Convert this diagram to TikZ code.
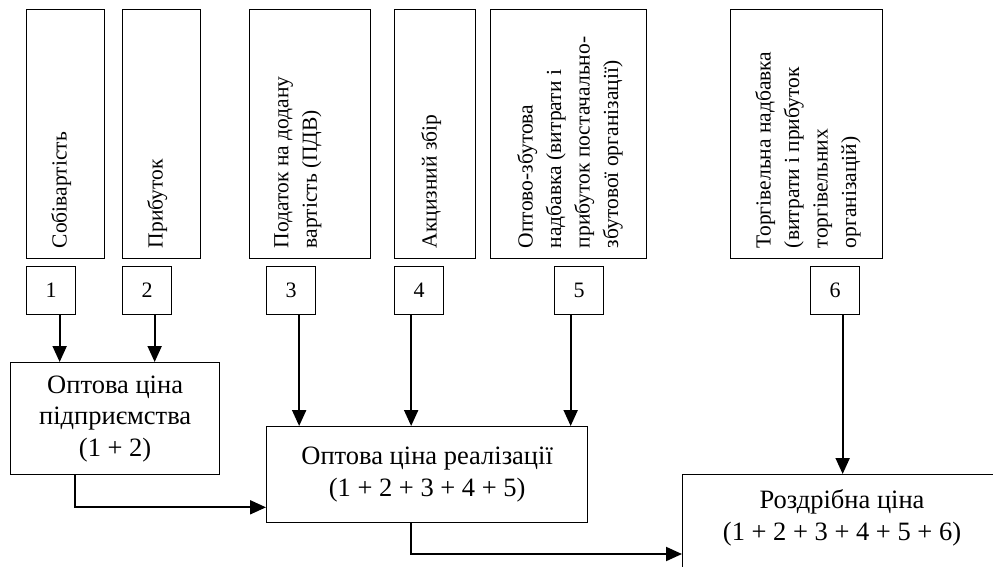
\documentclass[tikz,border=0pt]{standalone}
\usepackage{fontspec}
\setmainfont{Liberation Serif}
\usetikzlibrary{arrows.meta,calc}
\begin{document}
\begin{tikzpicture}[x=1pt,y=-1pt,
  box/.style={draw, line width=1.3pt, inner sep=0pt, anchor=north west},
  vtxt/.style={rotate=90, anchor=north west, inner sep=0pt, align=left, font=\fontsize{21.5}{28.5}\selectfont},
  num/.style={box, minimum width=49pt, minimum height=48pt, font=\fontsize{22}{25}\selectfont},
  arr/.style={line width=2pt, -{Triangle[length=16pt,width=14pt]}},
  htxt/.style={align=center, font=\fontsize{26.5}{31.5}\selectfont}]
\useasboundingbox (0,0) rectangle (993,566);
\clip (0,0) rectangle (993,566);
% top boxes
\node[box, minimum width=78pt, minimum height=249pt] (A) at (26,9) {};
\node[box, minimum width=78pt, minimum height=249pt] (B) at (122,9) {};
\node[box, minimum width=121pt, minimum height=249pt] (C) at (249,9) {};
\node[box, minimum width=81pt, minimum height=249pt] (D) at (394,9) {};
\node[box, minimum width=156pt, minimum height=249pt] (E) at (490,9) {};
\node[box, minimum width=152pt, minimum height=249pt] (F) at (730,9) {};
\node[vtxt] (At) at ($(A.south west)+(25,-11)$) {Собівартість};
\node[vtxt] (Bt) at ($(B.south west)+(25,-11)$) {Прибуток};
\node[vtxt] (Ct) at ($(C.south west)+(25,-11)$) {Податок на додану\\вартість (ПДВ)};
\node[vtxt] (Dt) at ($(D.south west)+(27,-11)$) {Акцизний збір};
\node[vtxt] (Et) at ($(E.south west)+(27,-11)$) {Оптово-збутова\\надбавка (витрати і\\прибуток постачально-\\збутової організації)};
\node[vtxt] (Ft) at ($(F.south west)+(25,-11)$) {Торгівельна надбавка\\(витрати і прибуток\\торгівельних\\організацій)};
% number boxes
\node[num] (n1) at (26,266) {1};
\node[num] (n2) at (122,266) {2};
\node[num] (n3) at (266,266) {3};
\node[num] (n4) at (394,266) {4};
\node[num] (n5) at (554,266) {5};
\node[num] (n6) at (810,266) {6};
% price boxes
\node[box, minimum width=209pt, minimum height=112pt, htxt, anchor=north west] (Ent) at (10,362) {Оптова ціна\\підприємства\\(1 + 2)};
\node[box, minimum width=321pt, minimum height=96pt, htxt, anchor=north west] (Real) at (266,426) {Оптова ціна реалізації\\(1 + 2 + 3 + 4 + 5)};
\node[box, minimum width=320pt, minimum height=130pt, anchor=north west] (Retail) at (682,474) {};
\node[htxt] (RetailT) at (842,518) {Роздрібна ціна\\(1 + 2 + 3 + 4 + 5 + 6)};
% arrows
\coordinate (a1) at ($(n1.south)+(8.5,0)$);
\coordinate (a2) at ($(n2.south)+(7.5,0)$);
\coordinate (a3) at ($(n3.south)+(8,0)$);
\coordinate (a4) at ($(n4.south)+(-8,0)$);
\coordinate (a5) at ($(n5.south)+(-8.5,0)$);
\coordinate (a6) at ($(n6.south)+(7.5,0)$);
\draw[arr] (a1) -- (a1 |- Ent.north);
\draw[arr] (a2) -- (a2 |- Ent.north);
\draw[arr] (a3) -- (a3 |- Real.north);
\draw[arr] (a4) -- (a4 |- Real.north);
\draw[arr] (a5) -- (a5 |- Real.north);
\draw[arr] (a6) -- (a6 |- Retail.north);
\coordinate (b1) at ($(Ent.south west)+(65,0)$);
\coordinate (c1) at ($(Real.south west)+(0,-16)$);
\draw[arr] (b1) |- (c1);
\coordinate (b2) at ($(Real.south west)+(145,0)$);
\coordinate (c2) at ($(Retail.north west)+(0,80)$);
\draw[arr] (b2) |- (c2);
\end{tikzpicture}
\end{document}
